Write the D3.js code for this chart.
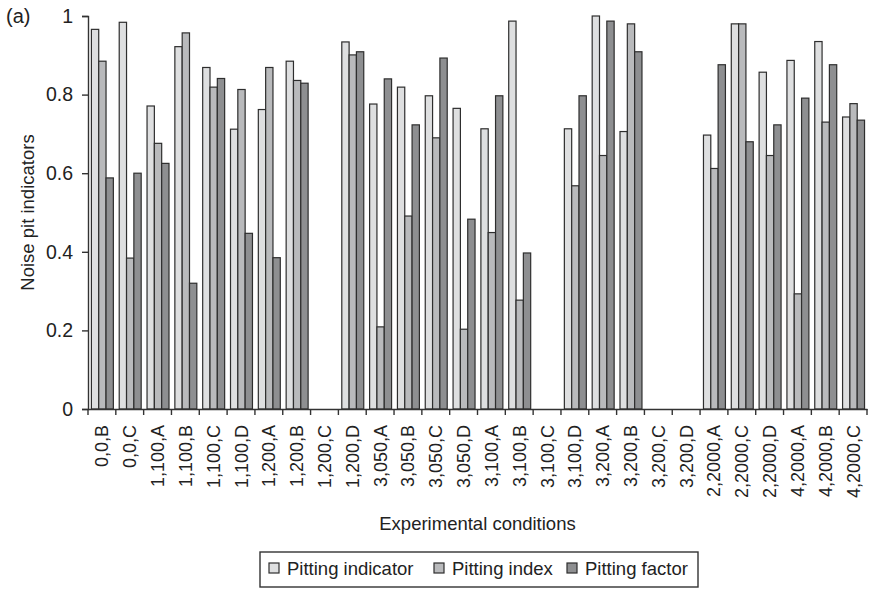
<!DOCTYPE html>
<html>
  <head>
    <meta charset="utf-8">
    <title>Noise pit indicators</title>
    <script src="https://cdn.jsdelivr.net/npm/d3@7/dist/d3.min.js"></script>
    <style>
      body { margin: 0; background: #fff; }
      text { font-family: "Liberation Sans", Arial, Helvetica, sans-serif; fill: #222; }
    </style>
  </head>
  <body>
  <script>

    // Experimental conditions, in the order they appear on the axis
    var categories = ["0,0,B", "0,0,C", "1,100,A", "1,100,B", "1,100,C", "1,100,D",
      "1,200,A", "1,200,B", "1,200,C", "1,200,D", "3,050,A", "3,050,B", "3,050,C",
      "3,050,D", "3,100,A", "3,100,B", "3,100,C", "3,100,D", "3,200,A", "3,200,B",
      "3,200,C", "3,200,D", "2,2000,A", "2,2000,C", "2,2000,D", "4,2000,A",
      "4,2000,B", "4,2000,C"];

    // null = no bar for that condition
    var pittingIndicator = [0.966, 0.984, 0.771, 0.922, 0.869, 0.712, 0.762, 0.885, null,
      0.934, 0.776, 0.819, 0.797, 0.765, 0.713, 0.987, null, 0.713, 1.0, 0.706, null, null,
      0.697, 0.980, 0.857, 0.887, 0.935, 0.743];
    var pittingIndex = [0.885, 0.384, 0.676, 0.957, 0.819, 0.813, 0.869, 0.836, null,
      0.901, 0.209, 0.491, 0.690, 0.203, 0.449, 0.277, null, 0.568, 0.645, 0.980, null, null,
      0.612, 0.980, 0.645, 0.293, 0.730, 0.777];
    var pittingFactor = [0.588, 0.600, 0.625, 0.320, 0.841, 0.447, 0.385, 0.829, null,
      0.909, 0.840, 0.723, 0.893, 0.483, 0.797, 0.397, null, 0.797, 0.987, 0.909, null, null,
      0.876, 0.680, 0.723, 0.791, 0.876, 0.735];

    var seriesNames = ["Pitting indicator", "Pitting index", "Pitting factor"];
    var seriesColors = ["#dedfe0", "#b9babc", "#8e8f91"];
    var yTicks = [0, 0.2, 0.4, 0.6, 0.8, 1];

    var series = [pittingIndicator, pittingIndex, pittingFactor];

    var width = 872, height = 589;
    var margin = { left: 88, right: 5, top: 16, bottom: 180 };

    var svg = d3.select("body").append("svg")
      .attr("width", width)
      .attr("height", height);

    var x = d3.scaleBand()
      .domain(categories)
      .range([margin.left, 867])
      .padding(0);

    var xSub = d3.scaleBand()
      .domain([0, 1, 2])
      .range([0, x.bandwidth()])
      .paddingInner(0)
      .paddingOuter(0.4)
      .align(0.58);

    var y = d3.scaleLinear()
      .domain([0, 1])
      .range([409, margin.top]);

    // bars
    var groups = svg.selectAll("g.grp")
      .data(categories)
      .enter().append("g")
      .attr("class", "grp")
      .attr("transform", function (d) { return "translate(" + x(d) + ",0)"; });

    groups.selectAll("rect")
      .data(function (d, i) {
        return series.map(function (s, k) { return { k: k, v: s[i] }; })
          .filter(function (e) { return e.v != null; });
      })
      .enter().append("rect")
      .attr("x", function (d) { return xSub(d.k); })
      .attr("width", xSub.bandwidth())
      .attr("y", function (d) { return y(d.v); })
      .attr("height", function (d) { return y(0) - y(d.v); })
      .style("fill", function (d) { return seriesColors[d.k]; })
      .style("stroke", "#2e2e2e")
      .style("stroke-width", 1.2);

    // y axis
    var yAxis = svg.append("g")
      .attr("transform", "translate(" + margin.left + ",0)")
      .call(d3.axisLeft(y).tickValues(yTicks).tickSizeOuter(0).tickSize(6).tickPadding(9)
        .tickFormat(function (d) { return d === 0 || d === 1 ? String(d) : d.toFixed(1); }));
    yAxis.selectAll("text").style("font-size", "19.5px").attr("fill", "#222");
    yAxis.selectAll("line, path").attr("stroke", "#333").attr("stroke-width", 1.4);

    // x axis: labels at band centres, ticks at band edges
    var xAxis = svg.append("g")
      .attr("transform", "translate(0," + y(0) + ")")
      .call(d3.axisBottom(x).tickSize(0).tickSizeOuter(0));
    xAxis.select("path").attr("stroke", "#333").attr("stroke-width", 1.4);
    xAxis.selectAll("text")
      .style("font-size", "18px")
      .attr("fill", "#222")
      .attr("text-anchor", "end")
      .attr("transform", "rotate(-90)")
      .attr("x", -16)
      .attr("y", 0)
      .attr("dy", "0.36em");

    var edges = categories.map(function (c) { return x(c); }).concat([x.range()[1]]);
    xAxis.selectAll("line.edge")
      .data(edges)
      .enter().append("line")
      .attr("class", "edge")
      .attr("x1", function (d) { return d; })
      .attr("x2", function (d) { return d; })
      .attr("y1", 0)
      .attr("y2", 6)
      .attr("stroke", "#333")
      .attr("stroke-width", 1.4);

    // titles
    svg.append("text")
      .attr("x", 6)
      .attr("y", 23)
      .style("font-size", "20px")
      .text("(a)");

    svg.append("text")
      .attr("transform", "translate(34," + ((y(0) + y(1)) / 2) + ") rotate(-90)")
      .attr("text-anchor", "middle")
      .style("font-size", "18.5px")
      .text("Noise pit indicators");

    svg.append("text")
      .attr("x", (x.range()[0] + x.range()[1]) / 2)
      .attr("y", 530)
      .attr("text-anchor", "middle")
      .style("font-size", "18.5px")
      .text("Experimental conditions");

    // legend
    var legend = svg.append("g");
    legend.append("rect")
      .attr("x", 260).attr("y", 552)
      .attr("width", 438).attr("height", 35)
      .attr("fill", "#fff")
      .attr("stroke", "#333")
      .attr("stroke-width", 1.4);

    var legendX = [269, 434, 567];
    var items = legend.selectAll("g.item")
      .data(seriesNames)
      .enter().append("g")
      .attr("class", "item")
      .attr("transform", function (d, i) { return "translate(" + legendX[i] + ",563)"; });
    items.append("rect")
      .attr("width", 10).attr("height", 10)
      .style("fill", function (d, i) { return seriesColors[i]; })
      .style("stroke", "#2e2e2e")
      .style("stroke-width", 1.2);
    items.append("text")
      .attr("x", 18)
      .attr("y", 12)
      .style("font-size", "18.5px")
      .text(function (d) { return d; });

  </script>
  </body>
</html>
